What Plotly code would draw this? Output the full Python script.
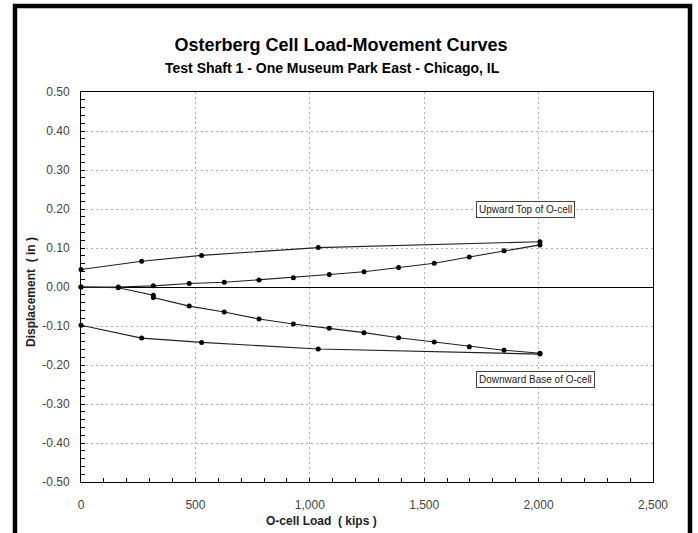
import plotly.graph_objects as go

# ---- data ----
load_loading = [0, 163, 316, 473, 626, 778, 928, 1085, 1237, 1388, 1544, 1697, 1849, 2006]
top_loading = [0.0, 0.0, 0.003, 0.009, 0.012, 0.018, 0.024, 0.032, 0.039, 0.050, 0.061, 0.077, 0.093, 0.108]

load_base_loading = [0, 163, 316, 316, 473, 626, 778, 928, 1085, 1237, 1388, 1544, 1697, 1849, 2006]
base_loading = [0.0, -0.002, -0.021, -0.027, -0.049, -0.064, -0.082, -0.095, -0.106, -0.117, -0.130, -0.141, -0.153, -0.162, -0.170]

load_unloading = [2006, 1037, 527, 265, 0]
top_unloading = [0.116, 0.101, 0.081, 0.066, 0.045]
base_unloading = [-0.172, -0.159, -0.142, -0.131, -0.098]

x_ticks = [0, 500, 1000, 1500, 2000, 2500]
x_tick_labels = ["0", "500", "1,000", "1,500", "2,000", "2,500"]
y_ticks = [0.5, 0.4, 0.3, 0.2, 0.1, 0.0, -0.1, -0.2, -0.3, -0.4, -0.5]
y_tick_labels = ["%.2f" % v for v in y_ticks]

W, H = 698, 533
L, R, T, B = 81, 653, 92, 482  # plot area in pixels
pw, ph = R - L, B - T


def px(x):
    return (x - L) / pw


def py(y):
    return (B - y) / ph


FONT = "Liberation Sans, Arial, sans-serif"
line_style = dict(color="#222222", width=1.1)
marker_style = dict(color="black", size=5)

fig = go.Figure()
for xs, ys in [(load_loading, top_loading), (load_unloading, top_unloading),
               (load_base_loading, base_loading), (load_unloading, base_unloading)]:
    fig.add_trace(go.Scatter(x=xs, y=ys, mode="lines+markers", line=line_style,
                             marker=marker_style, showlegend=False, cliponaxis=False))

grid = dict(showgrid=True, gridcolor="#b0b0b0", gridwidth=1, griddash="2px,3px")

fig.update_xaxes(range=[0, 2500], tickvals=x_ticks, ticktext=x_tick_labels,
                 showline=True, linecolor="black", linewidth=1, mirror=True,
                 ticks="inside", ticklen=4, tickcolor="black",
                 minor=dict(dtick=100, ticks="inside", ticklen=4, tickcolor="black", showgrid=False),
                 zeroline=False, tickfont=dict(family=FONT, size=12, color="#444"),
                 ticklabelstandoff=12, **grid)
fig.update_yaxes(range=[-0.5, 0.5], tickvals=y_ticks, ticktext=y_tick_labels,
                 showline=True, linecolor="black", linewidth=1, mirror=True,
                 ticks="inside", ticklen=4, tickcolor="black",
                 minor=dict(dtick=0.02, ticks="inside", ticklen=4, tickcolor="black", showgrid=False),
                 zeroline=True, zerolinecolor="black", zerolinewidth=1.2,
                 tickfont=dict(family=FONT, size=12, color="#444"),
                 ticklabelstandoff=8, **grid)

fig.add_annotation(text="<b>Test Shaft 1 - One Museum Park East - Chicago, IL</b>",
                   x=px(332), y=py(68), xref="paper", yref="paper", showarrow=False,
                   xanchor="center", yanchor="middle",
                   font=dict(family=FONT, size=14, color="black"))
fig.add_annotation(text="<b>O-cell Load  ( kips )</b>", x=px(321), y=py(521),
                   xref="paper", yref="paper", showarrow=False,
                   xanchor="center", yanchor="middle",
                   font=dict(family=FONT, size=12, color="#222"))
fig.add_annotation(text="<b>Displacement  ( in )</b>", x=px(31), y=py(292), textangle=-90,
                   xref="paper", yref="paper", showarrow=False,
                   xanchor="center", yanchor="middle",
                   font=dict(family=FONT, size=12, color="#222"))

fig.add_annotation(text="Upward Top of O-cell", x=1726, y=0.199, xref="x", yref="y",
                   xanchor="left", yanchor="middle", showarrow=False,
                   font=dict(family=FONT, size=10, color="#222"),
                   bordercolor="#444", borderwidth=1, borderpad=2, bgcolor="white")
fig.add_annotation(text="Downward Base of O-cell", x=1726, y=-0.236, xref="x", yref="y",
                   xanchor="left", yanchor="middle", showarrow=False,
                   font=dict(family=FONT, size=10, color="#222"),
                   bordercolor="#444", borderwidth=1, borderpad=2, bgcolor="white")

# outer black frame (open at bottom)
frame = dict(type="line", xref="paper", yref="paper", line=dict(color="black", width=4.5))
shapes = [
    dict(frame, x0=px(15), x1=px(15), y0=py(4), y1=py(540)),
    dict(frame, x0=px(690), x1=px(690), y0=py(4), y1=py(540)),
    dict(frame, x0=px(13), x1=px(692), y0=py(6), y1=py(6)),
]

fig.update_layout(width=W, height=H, margin=dict(l=L, r=W - R, t=T, b=H - B),
                  paper_bgcolor="white", plot_bgcolor="white",
                  title=dict(text="<b>Osterberg Cell Load-Movement Curves</b>",
                             x=341 / W, xanchor="center", y=1 - 45 / H, yanchor="middle",
                             xref="container", yref="container",
                             font=dict(family=FONT, size=18, color="black")),
                  shapes=shapes, showlegend=False)

fig.write_html("out.html", config={"displayModeBar": False},
               post_script="document.body.style.margin='0px';")
